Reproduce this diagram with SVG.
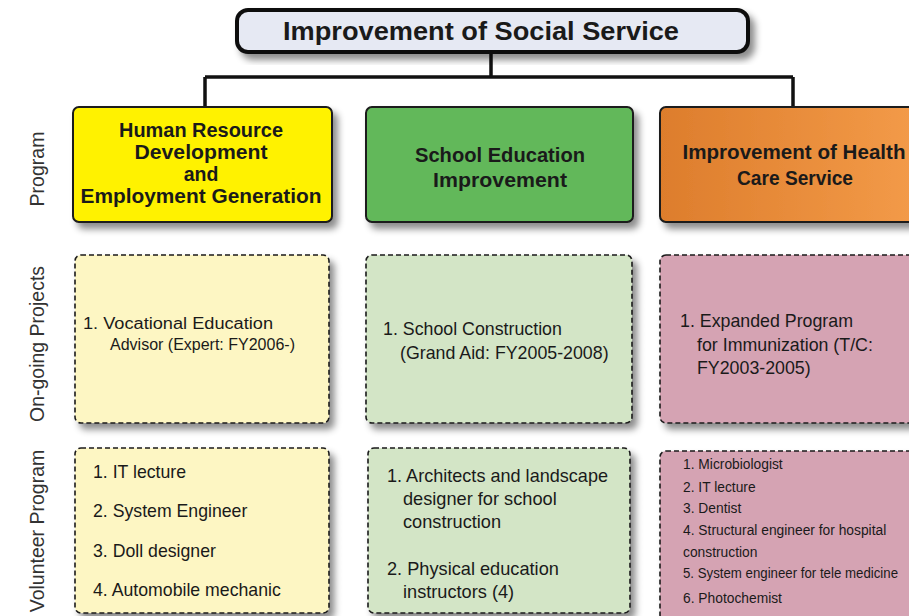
<svg xmlns="http://www.w3.org/2000/svg" width="909" height="616" viewBox="0 0 909 616">
<defs>
<filter id="sh" x="-10%" y="-10%" width="130%" height="140%">
<feDropShadow dx="5" dy="6" stdDeviation="3.5" flood-color="#000" flood-opacity="0.45"/>
</filter>
<linearGradient id="og" x1="0" y1="0" x2="1" y2="0">
<stop offset="0" stop-color="#dd7d2c"/>
<stop offset="1" stop-color="#f49c4a"/>
</linearGradient>
</defs>
<style>
text{font-family:"Liberation Sans",Arial,sans-serif;fill:#1a1a1a}
.prog{stroke:#1a1a1a;stroke-width:2}
.dash{stroke:#1a1a1a;stroke-width:1.6;stroke-dasharray:5 3}
.ph{font-size:19.5px;font-weight:bold;text-anchor:middle}
.t{font-size:16px}
.t2{font-size:17.8px}
.y{font-size:17.7px}
.s{font-size:13.8px}
.v{font-size:18.2px}
.row{font-size:19.5px;text-anchor:middle;fill:#333}
.conn{stroke:#111;stroke-width:3.5;fill:none}
</style>
<rect width="909" height="616" fill="#fff"/>
<g id="row-labels">
<text class="row" transform="translate(44,169) rotate(-90)">Program</text>
<text class="row" transform="translate(44,344) rotate(-90)">On-going Projects</text>
<text class="row" transform="translate(44,531) rotate(-90)">Volunteer Program</text>
</g>
<g id="connectors">
<path class="conn" d="M491 52 V77 M205 77 H793 M205 77 V107 M793 77 V107"/>
</g>
<g id="title">
<rect x="237" y="10" width="511" height="42" rx="11" fill="#e6e9f3" stroke="#111" stroke-width="4" filter="url(#sh)"/>
<text x="481" y="40" font-size="26" font-weight="bold" text-anchor="middle" textLength="396" lengthAdjust="spacingAndGlyphs">Improvement of Social Service</text>
</g>
<g id="prog-hr">
<rect class="prog" x="73" y="107" width="259" height="115" rx="6" fill="#fff200" filter="url(#sh)"/>
<text class="ph" x="201" y="137" textLength="164" lengthAdjust="spacingAndGlyphs">Human Resource</text>
<text class="ph" x="201" y="159" textLength="133" lengthAdjust="spacingAndGlyphs">Development</text>
<text class="ph" x="201" y="181">and</text>
<text class="ph" x="201" y="203" textLength="241" lengthAdjust="spacingAndGlyphs">Employment Generation</text>
</g>
<g id="prog-school">
<rect class="prog" x="366" y="107" width="267" height="115" rx="6" fill="#62b85a" filter="url(#sh)"/>
<text class="ph" x="500" y="162" textLength="170" lengthAdjust="spacingAndGlyphs">School Education</text>
<text class="ph" x="500" y="187" textLength="134" lengthAdjust="spacingAndGlyphs">Improvement</text>
</g>
<g id="prog-health">
<rect class="prog" x="660" y="107" width="268" height="115" rx="6" fill="url(#og)" filter="url(#sh)"/>
<text class="ph" x="794" y="159" textLength="223" lengthAdjust="spacingAndGlyphs">Improvement of Health</text>
<text class="ph" x="795" y="185" textLength="116" lengthAdjust="spacingAndGlyphs">Care Service</text>
</g>
<g id="proj-hr">
<rect class="dash" x="75" y="255" width="254" height="168" rx="6" fill="#fdf6c3" filter="url(#sh)"/>
<text class="t" x="83" y="329" textLength="190" lengthAdjust="spacingAndGlyphs">1. Vocational Education</text>
<text class="t" x="110" y="350">Advisor (Expert: FY2006-)</text>
</g>
<g id="proj-school">
<rect class="dash" x="366" y="255" width="266" height="168" rx="6" fill="#d3e5c6" filter="url(#sh)"/>
<text class="t2" x="383" y="335">1. School Construction</text>
<text class="t2" x="400" y="359">(Grand Aid: FY2005-2008)</text>
</g>
<g id="proj-health">
<rect class="dash" x="660" y="255" width="268" height="168" rx="6" fill="#d5a3b3" filter="url(#sh)"/>
<text class="t2" x="680" y="327">1. Expanded Program</text>
<text class="t2" x="697" y="351">for Immunization (T/C:</text>
<text class="t2" x="697" y="374">FY2003-2005)</text>
</g>
<g id="vol-hr">
<rect class="dash" x="75" y="448" width="254" height="165" rx="6" fill="#fdf6c3" filter="url(#sh)"/>
<text class="y" x="93" y="478">1. IT lecture</text>
<text class="y" x="93" y="517">2. System Engineer</text>
<text class="y" x="93" y="557">3. Doll designer</text>
<text class="y" x="93" y="596">4. Automobile mechanic</text>
</g>
<g id="vol-school">
<rect class="dash" x="368" y="448" width="262" height="165" rx="6" fill="#d3e5c6" filter="url(#sh)"/>
<text class="v" x="387" y="482" textLength="221" lengthAdjust="spacingAndGlyphs">1. Architects and landscape</text>
<text class="v" x="403" y="505">designer for school</text>
<text class="v" x="403" y="528">construction</text>
<text class="v" x="387" y="575">2. Physical education</text>
<text class="v" x="403" y="598">instructors (4)</text>
</g>
<g id="vol-health">
<rect class="dash" x="660" y="451" width="268" height="170" rx="6" fill="#d5a3b3" filter="url(#sh)"/>
<text class="s" x="683" y="469">1. Microbiologist</text>
<text class="s" x="683" y="492">2. IT lecture</text>
<text class="s" x="683" y="513">3. Dentist</text>
<text class="s" x="683" y="535">4. Structural engineer for hospital</text>
<text class="s" x="683" y="557">construction</text>
<text class="s" x="683" y="578" textLength="215" lengthAdjust="spacingAndGlyphs">5. System engineer for tele medicine</text>
<text class="s" x="683" y="603">6. Photochemist</text>
</g>
</svg>
